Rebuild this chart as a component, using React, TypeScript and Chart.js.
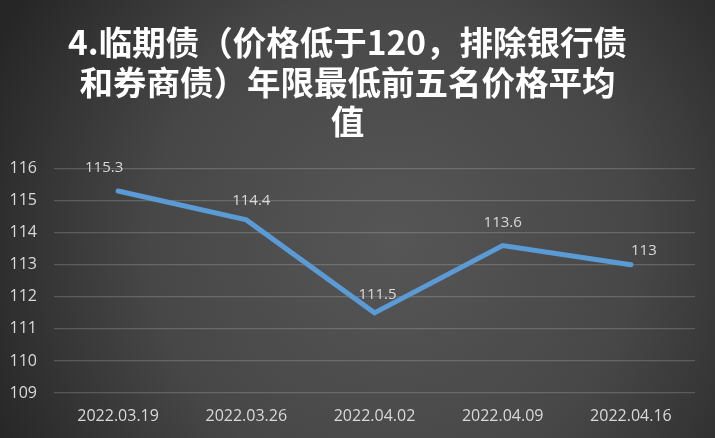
import React, { useEffect, useRef } from "react";
import { Chart, registerables } from "chart.js";

Chart.register(...registerables);

const titleLines = ["4.临期债（价格低于120，排除银行债", "和券商债）年限最低前五名价格平均", "值"];
const categories = ["2022.03.19", "2022.03.26", "2022.04.02", "2022.04.09", "2022.04.16"];
const values = [115.3, 114.4, 111.5, 113.6, 113];
const yMin = 109;
const yMax = 116;

// label placement offsets (style only)
const labelDx = [-14, 5, 3, 0, 13];
const labelDy = [-23, -19, -18, -23, -14];

const bgPlugin = {
  id: "bgGradient",
  beforeDraw(chart: any) {
    const { ctx, width, height } = chart;
    ctx.save();
    const g = ctx.createRadialGradient(width * 0.55, height * 0.55, 0, width * 0.55, height * 0.55, width * 0.62);
    g.addColorStop(0, "#565656");
    g.addColorStop(0.55, "#474747");
    g.addColorStop(1, "#262626");
    ctx.fillStyle = g;
    ctx.fillRect(0, 0, width, height);
    ctx.restore();
  },
};

const labelPlugin = {
  id: "pointLabels",
  afterDatasetsDraw(chart: any) {
    const { ctx } = chart;
    const meta = chart.getDatasetMeta(0);
    ctx.save();
    ctx.font = "15px 'Open Sans', sans-serif";
    ctx.fillStyle = "#d9d9d9";
    ctx.textAlign = "center";
    ctx.textBaseline = "middle";
    meta.data.forEach((pt: any, i: number) => {
      ctx.fillText(String(values[i]), pt.x + labelDx[i], pt.y + labelDy[i]);
    });
    ctx.restore();
  },
};

export default function App() {
  const ref = useRef<HTMLCanvasElement>(null);
  useEffect(() => {
    document.body.style.margin = "0";
    const chart = new Chart(ref.current!, {
      type: "line",
      data: {
        labels: categories,
        datasets: [
          {
            data: values,
            borderColor: "#5b9bd5",
            borderWidth: 5,
            borderCapStyle: "round",
            borderJoinStyle: "miter",
            pointRadius: 0,
            tension: 0,
            fill: false,
          },
        ],
      },
      options: {
        animation: false,
        responsive: false,
        layout: { padding: { left: 0, right: 20, top: 0, bottom: 13 } },
        plugins: {
          legend: { display: false },
          tooltip: { enabled: false },
          title: {
            display: true,
            text: titleLines,
            color: "#ffffff",
            font: { family: "'Noto Sans CJK SC', sans-serif", size: 33.5, weight: "bold", lineHeight: 1.19 },
            padding: { top: 22, bottom: 27 },
          },
        },
        scales: {
          x: {
            offset: true,
            grid: { display: false, drawTicks: false },
            border: { display: false },
            ticks: { color: "#d9d9d9", font: { family: "'Open Sans', sans-serif", size: 16 }, padding: 14, maxRotation: 0 },
            afterFit(scale: any) {
              scale.height = 32;
            },
          },
          y: {
            min: yMin,
            max: yMax,
            grid: { color: "rgba(217,217,217,0.22)", lineWidth: 1.3, drawTicks: false },
            border: { display: false },
            ticks: { stepSize: 1, color: "#d9d9d9", font: { family: "'Open Sans', sans-serif", size: 16 }, padding: 17 },
            afterFit(scale: any) {
              scale.width = 54;
            },
          },
        },
      },
      plugins: [bgPlugin, labelPlugin],
    });
    return () => chart.destroy();
  }, []);
  return <canvas ref={ref} width={715} height={438} style={{ display: "block" }} />;
}
